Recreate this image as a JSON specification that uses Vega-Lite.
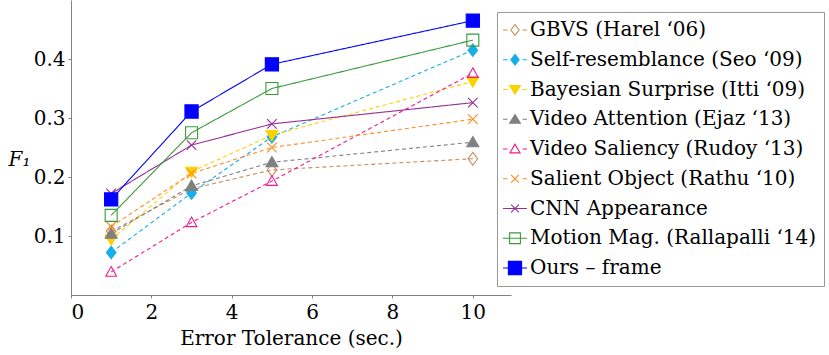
{
  "$schema": "https://vega.github.io/schema/vega-lite/v6.json",
  "width": 440,
  "height": 295,
  "autosize": "none",
  "padding": {"left": 71, "top": 0, "right": 318, "bottom": 60},
  "background": "white",
  "data": {"values": [
    {"method": "GBVS (Harel ‘06)", "x": 1, "f1": 0.108},
    {"method": "GBVS (Harel ‘06)", "x": 3, "f1": 0.180},
    {"method": "GBVS (Harel ‘06)", "x": 5, "f1": 0.212},
    {"method": "GBVS (Harel ‘06)", "x": 10, "f1": 0.231},
    {"method": "Self-resemblance (Seo ‘09)", "x": 1, "f1": 0.072},
    {"method": "Self-resemblance (Seo ‘09)", "x": 3, "f1": 0.173},
    {"method": "Self-resemblance (Seo ‘09)", "x": 5, "f1": 0.268},
    {"method": "Self-resemblance (Seo ‘09)", "x": 10, "f1": 0.415},
    {"method": "Bayesian Surprise (Itti ‘09)", "x": 1, "f1": 0.094},
    {"method": "Bayesian Surprise (Itti ‘09)", "x": 3, "f1": 0.209},
    {"method": "Bayesian Surprise (Itti ‘09)", "x": 5, "f1": 0.271},
    {"method": "Bayesian Surprise (Itti ‘09)", "x": 10, "f1": 0.362},
    {"method": "Video Attention (Ejaz ‘13)", "x": 1, "f1": 0.104},
    {"method": "Video Attention (Ejaz ‘13)", "x": 3, "f1": 0.185},
    {"method": "Video Attention (Ejaz ‘13)", "x": 5, "f1": 0.225},
    {"method": "Video Attention (Ejaz ‘13)", "x": 10, "f1": 0.259},
    {"method": "Video Saliency (Rudoy ‘13)", "x": 1, "f1": 0.039},
    {"method": "Video Saliency (Rudoy ‘13)", "x": 3, "f1": 0.123},
    {"method": "Video Saliency (Rudoy ‘13)", "x": 5, "f1": 0.193},
    {"method": "Video Saliency (Rudoy ‘13)", "x": 10, "f1": 0.376},
    {"method": "Salient Object (Rathu ‘10)", "x": 1, "f1": 0.116},
    {"method": "Salient Object (Rathu ‘10)", "x": 3, "f1": 0.206},
    {"method": "Salient Object (Rathu ‘10)", "x": 5, "f1": 0.250},
    {"method": "Salient Object (Rathu ‘10)", "x": 10, "f1": 0.298},
    {"method": "CNN Appearance", "x": 1, "f1": 0.172},
    {"method": "CNN Appearance", "x": 3, "f1": 0.254},
    {"method": "CNN Appearance", "x": 5, "f1": 0.290},
    {"method": "CNN Appearance", "x": 10, "f1": 0.326},
    {"method": "Motion Mag. (Rallapalli ‘14)", "x": 1, "f1": 0.135},
    {"method": "Motion Mag. (Rallapalli ‘14)", "x": 3, "f1": 0.275},
    {"method": "Motion Mag. (Rallapalli ‘14)", "x": 5, "f1": 0.350},
    {"method": "Motion Mag. (Rallapalli ‘14)", "x": 10, "f1": 0.432},
    {"method": "Ours – frame", "x": 1, "f1": 0.162},
    {"method": "Ours – frame", "x": 3, "f1": 0.311},
    {"method": "Ours – frame", "x": 5, "f1": 0.391},
    {"method": "Ours – frame", "x": 10, "f1": 0.465}
  ]},
  "encoding": {
    "x": {"field": "x", "type": "quantitative",
      "scale": {"domain": [0, 10.95], "nice": false, "zero": false},
      "axis": {"title": "Error Tolerance (sec.)", "values": [0, 2, 4, 6, 8, 10], "labelPadding": 4, "titlePadding": 6}},
    "y": {"field": "f1", "type": "quantitative",
      "scale": {"domain": [0, 0.5], "nice": false},
      "axis": {"title": "F₁", "values": [0.1, 0.2, 0.3, 0.4], "labelPadding": 3,
        "titleFontStyle": "italic", "titleAngle": 0, "titleAlign": "left", "titleBaseline": "alphabetic", "titleX": -63, "titleY": 165}}
  },
  "layer": [
    {
      "mark": {"type": "line"},
      "encoding": {
        "color": {"field": "method", "type": "nominal", "legend": null,
          "scale": {"domain": ["GBVS (Harel ‘06)", "Self-resemblance (Seo ‘09)", "Bayesian Surprise (Itti ‘09)", "Video Attention (Ejaz ‘13)", "Video Saliency (Rudoy ‘13)", "Salient Object (Rathu ‘10)", "CNN Appearance", "Motion Mag. (Rallapalli ‘14)", "Ours – frame"],
            "range": ["#cc8a55", "#17aee8", "#ffd000", "#808080", "#f01b8f", "#ff8c1f", "#952d98", "#3a9a3a", "#0000ff"]}},
        "strokeDash": {"field": "method", "type": "nominal", "legend": null,
          "scale": {"domain": ["GBVS (Harel ‘06)", "Self-resemblance (Seo ‘09)", "Bayesian Surprise (Itti ‘09)", "Video Attention (Ejaz ‘13)", "Video Saliency (Rudoy ‘13)", "Salient Object (Rathu ‘10)", "CNN Appearance", "Motion Mag. (Rallapalli ‘14)", "Ours – frame"],
            "range": [[4, 3], [4, 3], [4, 3], [4, 3], [4, 3], [4, 3], [1, 0], [1, 0], [1, 0]]}},
        "strokeWidth": {"field": "method", "type": "nominal", "legend": null,
          "scale": {"domain": ["GBVS (Harel ‘06)", "Self-resemblance (Seo ‘09)", "Bayesian Surprise (Itti ‘09)", "Video Attention (Ejaz ‘13)", "Video Saliency (Rudoy ‘13)", "Salient Object (Rathu ‘10)", "CNN Appearance", "Motion Mag. (Rallapalli ‘14)", "Ours – frame"],
            "range": [1.1, 1.1, 1.1, 1.1, 1.1, 1.1, 1.3, 1.3, 1.8]}}
      }
    },
    {
      "mark": {"type": "point", "size": 144, "strokeWidth": 1.1, "opacity": 1},
      "encoding": {
        "shape": {"field": "method", "type": "nominal", "legend": null,
          "scale": {"domain": ["GBVS (Harel ‘06)", "Self-resemblance (Seo ‘09)", "Bayesian Surprise (Itti ‘09)", "Video Attention (Ejaz ‘13)", "Video Saliency (Rudoy ‘13)", "Salient Object (Rathu ‘10)", "CNN Appearance", "Motion Mag. (Rallapalli ‘14)", "Ours – frame"],
            "range": [
              "M0,-1.05L0.8,0L0,1.05L-0.8,0Z",
              "M0,-1.05L0.8,0L0,1.05L-0.8,0Z",
              "M0,0.95L1,-0.75L-1,-0.75Z",
              "M0,-0.95L1,0.75L-1,0.75Z",
              "M0,-0.9L0.9,0.7L-0.9,0.7Z",
              "M-0.8,-0.8L0.8,0.8M-0.8,0.8L0.8,-0.8",
              "M-0.8,-0.8L0.8,0.8M-0.8,0.8L0.8,-0.8",
              "M-1,-1L1,-1L1,1L-1,1Z",
              "M-1.1,-1.1L1.1,-1.1L1.1,1.1L-1.1,1.1Z"
            ]}},
        "stroke": {"field": "method", "type": "nominal", "legend": null,
          "scale": {"domain": ["GBVS (Harel ‘06)", "Self-resemblance (Seo ‘09)", "Bayesian Surprise (Itti ‘09)", "Video Attention (Ejaz ‘13)", "Video Saliency (Rudoy ‘13)", "Salient Object (Rathu ‘10)", "CNN Appearance", "Motion Mag. (Rallapalli ‘14)", "Ours – frame"],
            "range": ["#cc8a55", "#17aee8", "#ffd000", "#808080", "#f01b8f", "#ff8c1f", "#952d98", "#3a9a3a", "#0000ff"]}},
        "fill": {"field": "method", "type": "nominal", "legend": null,
          "scale": {"domain": ["GBVS (Harel ‘06)", "Self-resemblance (Seo ‘09)", "Bayesian Surprise (Itti ‘09)", "Video Attention (Ejaz ‘13)", "Video Saliency (Rudoy ‘13)", "Salient Object (Rathu ‘10)", "CNN Appearance", "Motion Mag. (Rallapalli ‘14)", "Ours – frame"],
            "range": ["transparent", "#17aee8", "#ffd000", "#808080", "transparent", "transparent", "transparent", "transparent", "#0000ff"]}}
      }
    },
    {
      "mark": {"type": "point", "size": 144, "strokeWidth": 1.1, "opacity": 0},
      "encoding": {
        "shape": {"field": "method", "type": "nominal", "legend": {"title": null},
          "scale": {"domain": ["GBVS (Harel ‘06)", "Self-resemblance (Seo ‘09)", "Bayesian Surprise (Itti ‘09)", "Video Attention (Ejaz ‘13)", "Video Saliency (Rudoy ‘13)", "Salient Object (Rathu ‘10)", "CNN Appearance", "Motion Mag. (Rallapalli ‘14)", "Ours – frame"],
            "range": [
              "M-2,0L-1.25,0M1.25,0L2,0M0,-0.9L0.7,0L0,0.9L-0.7,0Z",
              "M-2,0L-1.25,0M1.25,0L2,0M0,-0.9L0.7,0L0,0.9L-0.7,0Z",
              "M-2,0L-1.25,0M1.25,0L2,0M0,0.8L0.9,-0.65L-0.9,-0.65Z",
              "M-2,0L-1.25,0M1.25,0L2,0M0,-0.8L0.9,0.65L-0.9,0.65Z",
              "M-2,0L-1.25,0M1.25,0L2,0M0,-0.8L0.85,0.65L-0.85,0.65Z",
              "M-2,0L-1.25,0M1.25,0L2,0M-0.65,-0.65L0.65,0.65M-0.65,0.65L0.65,-0.65",
              "M-2,0L2,0M-0.65,-0.65L0.65,0.65M-0.65,0.65L0.65,-0.65",
              "M-2,0L2,0M-0.9,-0.9L0.9,-0.9L0.9,0.9L-0.9,0.9Z",
              "M-2,0L2,0M-1.1,-1.1L1.1,-1.1L1.1,1.1L-1.1,1.1Z"
            ]}},
        "stroke": {"field": "method", "type": "nominal", "legend": {"title": null},
          "scale": {"domain": ["GBVS (Harel ‘06)", "Self-resemblance (Seo ‘09)", "Bayesian Surprise (Itti ‘09)", "Video Attention (Ejaz ‘13)", "Video Saliency (Rudoy ‘13)", "Salient Object (Rathu ‘10)", "CNN Appearance", "Motion Mag. (Rallapalli ‘14)", "Ours – frame"],
            "range": ["#cc8a55", "#17aee8", "#ffd000", "#808080", "#f01b8f", "#ff8c1f", "#952d98", "#3a9a3a", "#0000ff"]}},
        "fill": {"field": "method", "type": "nominal", "legend": {"title": null},
          "scale": {"domain": ["GBVS (Harel ‘06)", "Self-resemblance (Seo ‘09)", "Bayesian Surprise (Itti ‘09)", "Video Attention (Ejaz ‘13)", "Video Saliency (Rudoy ‘13)", "Salient Object (Rathu ‘10)", "CNN Appearance", "Motion Mag. (Rallapalli ‘14)", "Ours – frame"],
            "range": ["transparent", "#17aee8", "#ffd000", "#808080", "transparent", "transparent", "transparent", "transparent", "#0000ff"]}}
      }
    }
  ],
  "resolve": {"scale": {"shape": "independent", "stroke": "independent", "fill": "independent"}},
  "config": {
    "view": {"stroke": null},
    "font": "DejaVu Serif",
    "axis": {"grid": false, "domainColor": "#808080", "tickColor": "#808080", "tickSize": 3,
      "labelFont": "DejaVu Serif", "labelFontSize": 20, "labelColor": "black",
      "titleFont": "DejaVu Serif", "titleFontSize": 20, "titleFontWeight": "normal", "titleColor": "black"},
    "legend": {"orient": "none", "legendX": 426, "legendY": 12,
      "labelFont": "DejaVu Serif", "labelFontSize": 20, "labelColor": "black", "labelLimit": 500,
      "symbolSize": 144, "symbolStrokeWidth": 1.1, "symbolOpacity": 1,
      "padding": 8, "rowPadding": 9.75, "labelOffset": 5,
      "fillColor": "white", "strokeColor": "#999999"}
  }
}
